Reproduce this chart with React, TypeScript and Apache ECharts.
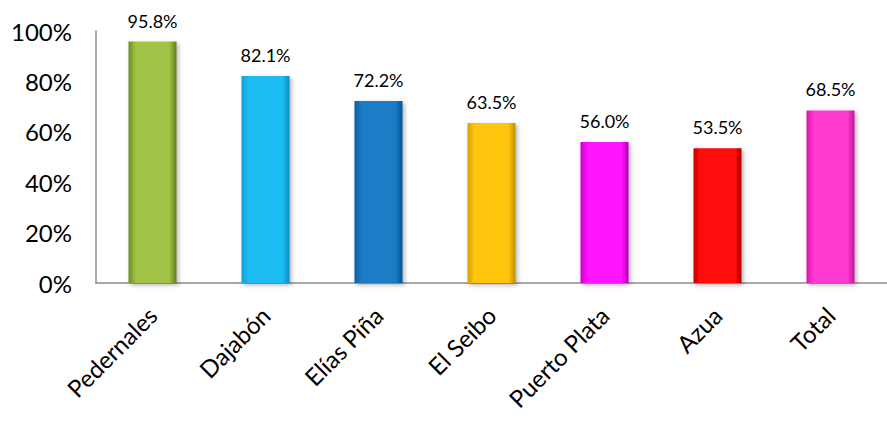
import React, { useEffect, useRef } from "react";
import * as echarts from "echarts";

const categories = ["Pedernales", "Dajabón", "Elías Piña", "El Seibo", "Puerto Plata", "Azua", "Total"];
const values = [95.8, 82.1, 72.2, 63.5, 56.0, 53.5, 68.5];
const barColors = [
  ["#6f8a26", "#a0c244", "#627a20"],
  ["#0d9fd6", "#1fbdf2", "#0a8cc0"],
  ["#0c5e9e", "#1a7cc6", "#0a548e"],
  ["#d9a200", "#ffc60d", "#c08d00"],
  ["#cc00cc", "#ff14ff", "#b400b4"],
  ["#cc0000", "#ff0a0a", "#b40000"],
  ["#d91aa8", "#ff3ad0", "#c2159a"],
];
const yTicks = [0, 20, 40, 60, 80, 100];

export default function App() {
  const ref = useRef<HTMLDivElement>(null);
  useEffect(() => {
    if (!ref.current) return;
    const chart = echarts.init(ref.current, null, { renderer: "svg" });
    const font = "Lato, 'Open Sans', sans-serif";
    chart.setOption({
      animation: false,
      grid: { left: 96, top: 31, width: 802, height: 252, containLabel: false },
      xAxis: {
        type: "category",
        data: categories,
        axisLine: { show: true, lineStyle: { color: "#8c8c8c", width: 1.5 } },
        axisTick: { show: false },
        axisLabel: {
          rotate: 45,
          fontSize: 24,
          color: "#000",
          fontFamily: font,
          margin: 28,
          interval: 0,
        },
      },
      yAxis: {
        type: "value",
        min: 0,
        max: 100,
        interval: 20,
        axisLine: { show: true, lineStyle: { color: "#8c8c8c", width: 1.5 } },
        axisTick: { show: false },
        splitLine: { show: false },
        axisLabel: {
          fontSize: 24,
          color: "#000",
          fontFamily: font,
          margin: 24,
          formatter: (v: number) => (yTicks.includes(v) ? v + "%" : ""),
        },
      },
      series: [
        {
          type: "bar",
          barWidth: 48,
          data: values.map((v, i) => ({
            value: v,
            itemStyle: {
              color: {
                type: "linear",
                x: 0,
                y: 0,
                x2: 1,
                y2: 0,
                colorStops: [
                  { offset: 0, color: barColors[i][0] },
                  { offset: 0.15, color: barColors[i][1] },
                  { offset: 0.85, color: barColors[i][1] },
                  { offset: 1, color: barColors[i][2] },
                ],
              },
              shadowColor: "rgba(0,0,0,0.3)",
              shadowBlur: 4,
              shadowOffsetX: 2,
              shadowOffsetY: 2,
            },
          })),
          label: {
            show: true,
            position: "top",
            distance: 12,
            fontSize: 18,
            color: "#000",
            fontFamily: font,
            formatter: (p: any) => p.value.toFixed(1) + "%",
          },
        },
      ],
    });
    return () => chart.dispose();
  }, []);
  return (
    <div
      ref={ref}
      style={{ position: "fixed", left: 0, top: 0, width: 887, height: 432, background: "#fff" }}
    />
  );
}
